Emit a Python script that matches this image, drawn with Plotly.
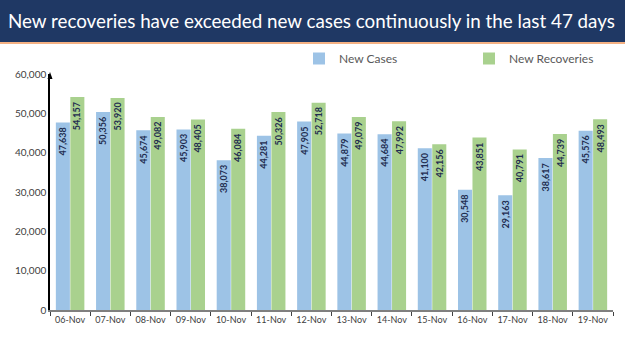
import plotly.graph_objects as go

dates = ["06-Nov", "07-Nov", "08-Nov", "09-Nov", "10-Nov", "11-Nov", "12-Nov",
         "13-Nov", "14-Nov", "15-Nov", "16-Nov", "17-Nov", "18-Nov", "19-Nov"]
new_cases = [47638, 50356, 45674, 45903, 38073, 44281, 47905,
             44879, 44684, 41100, 30548, 29163, 38617, 45576]
new_recoveries = [54157, 53920, 49082, 48405, 46084, 50326, 52718,
                  49079, 47992, 42156, 43851, 40791, 44739, 48493]
y_ticks = [0, 10000, 20000, 30000, 40000, 50000, 60000]

W, H = 625, 351
ML, MR, MT, MB = 50, 12, 74, 41
PW, PH = W - ML - MR, H - MT - MB

def px_x(px):
    return (px - ML) / PW

def px_y(py):
    return (H - MB - py) / PH

BARGAP, GROUPGAP = 0.28, 0.03
cat_w = PW / len(dates)
half_off = cat_w * (1 - BARGAP) / 4  # centre offset of each bar in group

fig = go.Figure()
fig.add_trace(go.Bar(
    x=dates, y=new_cases, name="New Cases",
    marker=dict(color="#9dc3e6", line=dict(width=0)),
))
fig.add_trace(go.Bar(
    x=dates, y=new_recoveries, name="New Recoveries",
    marker=dict(color="#a9d18e", line=dict(width=0)),
))

annotations = [dict(
    text="New recoveries have exceeded new cases continuously in the last 47 days",
    xref="paper", yref="paper", x=px_x(311), y=px_y(21),
    xanchor="center", yanchor="middle", showarrow=False,
    font=dict(family="Lato", size=18.8, color="white"),
)]
label_font = dict(family="Lato", size=9, color="#1f2d50")
for series, shift in ((new_cases, -half_off), (new_recoveries, half_off)):
    for d, v in zip(dates, series):
        annotations.append(dict(
            x=d, y=v, xref="x", yref="y", text=f"<b>{v:,}</b>",
            textangle=-90, showarrow=False, xanchor="center", yanchor="top",
            xshift=shift, yshift=-3, font=label_font,
        ))

shapes = [
    dict(type="rect", xref="paper", yref="paper",
         x0=px_x(0), x1=px_x(W), y0=px_y(42), y1=px_y(0),
         fillcolor="#1f3864", line=dict(width=0), layer="below"),
    dict(type="rect", xref="paper", yref="paper",
         x0=px_x(0), x1=px_x(W), y0=px_y(44), y1=px_y(42),
         fillcolor="#f4b183", line=dict(width=0), layer="below"),
    dict(type="path", xref="paper", yref="paper",
         path=f"M {px_x(47.5)} {px_y(79)} L {px_x(50)} {px_y(72)} L {px_x(52.5)} {px_y(79)} Z",
         fillcolor="#000000", line=dict(width=0)),
]

fig.update_layout(
    width=W, height=H,
    margin=dict(l=ML, r=MR, t=MT, b=MB, autoexpand=False),
    paper_bgcolor="white", plot_bgcolor="white",
    barmode="group", bargap=BARGAP, bargroupgap=GROUPGAP,
    shapes=shapes,
    showlegend=True,
    legend=dict(orientation="h", x=px_x(299), y=px_y(44), xanchor="left", yanchor="top",
                font=dict(family="Lato", size=12, color="#595959"),
                entrywidth=125, entrywidthmode="pixels",
                bgcolor="rgba(0,0,0,0)"),
    font=dict(family="Lato", color="#404040"),
    annotations=annotations,
)

fig.update_xaxes(
    type="category", showline=True, linecolor="#7f7f7f", linewidth=1.5,
    ticks="outside", tickson="boundaries", ticklen=4, tickcolor="#404040",
    tickfont=dict(family="Lato", size=9, color="#404040"), tickangle=0,
    showgrid=False, zeroline=False, automargin=False,
)
fig.update_yaxes(
    range=[0, 60000], tickvals=y_ticks,
    ticktext=[f"{v:,}" for v in y_ticks],
    showline=True, linecolor="#000000", linewidth=1.5,
    ticks="", tickfont=dict(family="Lato", size=10, color="#404040"),
    showgrid=False, zeroline=False, automargin=False,
)

fig.write_html("out.html")
